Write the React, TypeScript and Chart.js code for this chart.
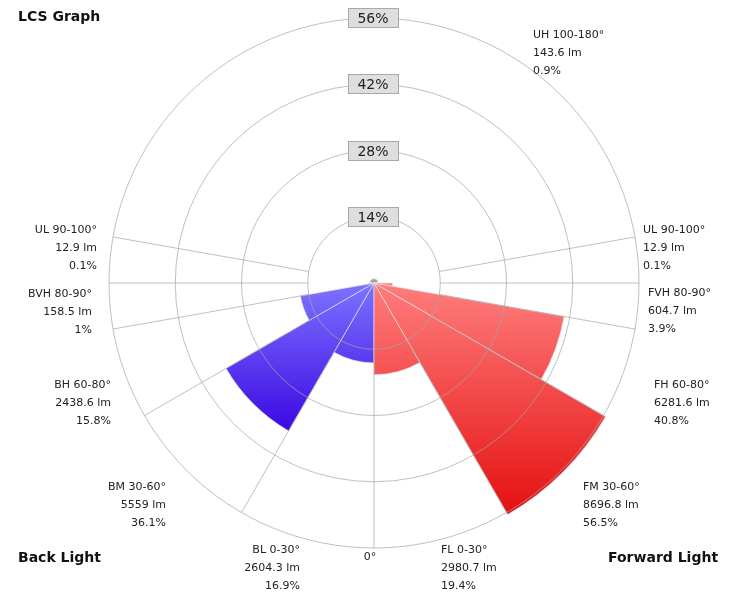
import React, { useEffect, useRef } from "react";
import { Chart, registerables } from "chart.js";

Chart.register(...registerables);

// ---- Data (zones listed clockwise starting at 0° = straight down) ----
const zoneNames = [
  "BL 0-30°",
  "BM 30-60°",
  "BH 60-80°",
  "BVH 80-90°",
  "UL 90-100°",
  "UH 100-180°",
  "UL 90-100°",
  "FVH 80-90°",
  "FH 60-80°",
  "FM 30-60°",
  "FL 0-30°",
];
const zoneSpans = [30, 30, 20, 10, 10, 160, 10, 10, 20, 30, 30];
const zoneLumens = [2604.3, 5559, 2438.6, 158.5, 12.9, 143.6, 12.9, 604.7, 6281.6, 8696.8, 2980.7];
const zonePercents = [16.9, 36.1, 15.8, 1, 0.1, 0.9, 0.1, 3.9, 40.8, 56.5, 19.4];
const zoneSides = ["back", "back", "back", "back", "up", "up", "up", "fwd", "fwd", "fwd", "fwd"];
const tickValues = [14, 28, 42, 56];
const titleTexts = ["LCS Graph", "Back Light", "Forward Light"];

// ---- Layout (positions of annotation text) ----
const zoneLabelPos: { x: number; y: number; align: CanvasTextAlign }[] = [
  { x: 300, y: 550, align: "right" }, // BL
  { x: 166, y: 487, align: "right" }, // BM
  { x: 111, y: 385, align: "right" }, // BH
  { x: 92, y: 294, align: "right" }, // BVH
  { x: 97, y: 230, align: "right" }, // UL back
  { x: 533, y: 35, align: "left" }, // UH
  { x: 643, y: 230, align: "left" }, // UL fwd
  { x: 648, y: 293, align: "left" }, // FVH
  { x: 654, y: 385, align: "left" }, // FH
  { x: 583, y: 487, align: "left" }, // FM
  { x: 441, y: 550, align: "left" }, // FL
];
const titlePos: { x: number; y: number }[] = [
  { x: 18, y: 17 },
  { x: 18, y: 558 },
  { x: 608, y: 558 },
];

const GRID_COLOR = "rgba(165,165,165,0.7)";
const LABEL_FONT = "11px 'DejaVu Sans'";
const TITLE_FONT = "bold 14px 'DejaVu Sans'";
const TICK_FONT = "14px 'DejaVu Sans'";

const lcsPlugin = {
  id: "lcsDecor",
  afterDatasetsDraw(chart: any) {
    const r = chart.scales.r;
    if (!r) return;
    const ctx: CanvasRenderingContext2D = chart.ctx;
    const inner = r.getDistanceFromCenterForValue(tickValues[0]);
    const outer = r.getDistanceFromCenterForValue(r.max);
    ctx.save();
    ctx.strokeStyle = GRID_COLOR;
    ctx.lineWidth = 1;
    let a = r.options.startAngle;
    for (let i = 0; i < zoneSpans.length; i++) {
      const rad = ((a - 90) * Math.PI) / 180;
      const c = Math.cos(rad);
      const s = Math.sin(rad);
      ctx.beginPath();
      ctx.moveTo(r.xCenter + inner * c, r.yCenter + inner * s);
      ctx.lineTo(r.xCenter + outer * c, r.yCenter + outer * s);
      ctx.stroke();
      a += zoneSpans[i];
    }
    ctx.restore();
  },
  afterDraw(chart: any) {
    const r = chart.scales.r;
    if (!r) return;
    const ctx: CanvasRenderingContext2D = chart.ctx;
    ctx.save();
    // tick labels with boxed backdrop
    ctx.font = TICK_FONT;
    ctx.textAlign = "center";
    ctx.textBaseline = "middle";
    tickValues.forEach((v) => {
      const y = Math.round(r.yCenter - r.getDistanceFromCenterForValue(v));
      const text = v + "%";
      const w = ctx.measureText(text).width;
      const bw = Math.round(w + 20);
      const bh = 20;
      const bx = Math.round(r.xCenter - bw / 2) - 1;
      const by = y - bh / 2;
      ctx.fillStyle = "#dedede";
      ctx.fillRect(bx, by, bw, bh);
      ctx.strokeStyle = "#a9a9a9";
      ctx.lineWidth = 1;
      ctx.strokeRect(bx + 0.5, by + 0.5, bw - 1, bh - 1);
      ctx.fillStyle = "#222";
      ctx.fillText(text, r.xCenter - 1, y + 1);
    });
    // zone annotations
    ctx.font = LABEL_FONT;
    ctx.fillStyle = "#222";
    ctx.textBaseline = "middle";
    zoneNames.forEach((name, i) => {
      const p = zoneLabelPos[i];
      ctx.textAlign = p.align;
      const lines = [name, zoneLumens[i] + " lm", zonePercents[i] + "%"];
      lines.forEach((t, k) => ctx.fillText(t, p.x, p.y + k * 18));
    });
    // 0° marker
    ctx.textAlign = "center";
    ctx.fillText("0°", r.xCenter - 4, r.yCenter + r.drawingArea + 9);
    // titles
    ctx.font = TITLE_FONT;
    ctx.fillStyle = "#111";
    ctx.textAlign = "left";
    titleTexts.forEach((t, i) => ctx.fillText(t, titlePos[i].x, titlePos[i].y));
    ctx.restore();
  },
};

function zoneColor(c: any) {
  const chart = c.chart;
  const r = chart.scales && chart.scales.r;
  const i = c.dataIndex;
  const side = zoneSides[i];
  if (side === "up") return "#a2a2a2";
  if (!r || !isFinite(r.yCenter)) return side === "back" ? "#5533ee" : "#f04040";
  const ctx = chart.ctx as CanvasRenderingContext2D;
  if (side === "back") {
    const g = ctx.createLinearGradient(0, r.yCenter, 0, r.yCenter + r.drawingArea * 0.6);
    g.addColorStop(0, "rgb(125,115,255)");
    g.addColorStop(1, "rgb(55,0,225)");
    return g;
  }
  const g = ctx.createLinearGradient(0, r.yCenter, 0, r.yCenter + r.drawingArea);
  g.addColorStop(0, "rgb(255,125,125)");
  g.addColorStop(1, "rgb(225,0,0)");
  return g;
}

export default function App() {
  const ref = useRef<HTMLCanvasElement | null>(null);
  useEffect(() => {
    if (!ref.current) return;
    const chart = new Chart(ref.current, {
      type: "polarArea",
      data: {
        labels: zoneNames,
        datasets: [
          {
            data: zonePercents,
            angle: zoneSpans,
            backgroundColor: zoneColor,
            borderColor: "rgba(225,225,225,0.7)",
            borderWidth: 1,
            clip: false,
          } as any,
        ],
      },
      options: {
        responsive: false,
        animation: false,
        layout: { padding: { top: 18, bottom: 44, left: 10, right: 0 } },
        plugins: { legend: { display: false }, tooltip: { enabled: false } },
        scales: {
          r: {
            startAngle: 180,
            min: 0,
            max: 56,
            ticks: { display: false, stepSize: 14 },
            grid: { circular: true, color: GRID_COLOR, z: 1 } as any,
            angleLines: { display: false },
            pointLabels: { display: false },
          },
        },
      } as any,
      plugins: [lcsPlugin],
    });
    return () => chart.destroy();
  }, []);
  return (
    <div style={{ position: "absolute", left: 0, top: 0, width: 738, height: 592, background: "#fff" }}>
      <canvas ref={ref} width={738} height={592} style={{ display: "block" }} />
    </div>
  );
}
